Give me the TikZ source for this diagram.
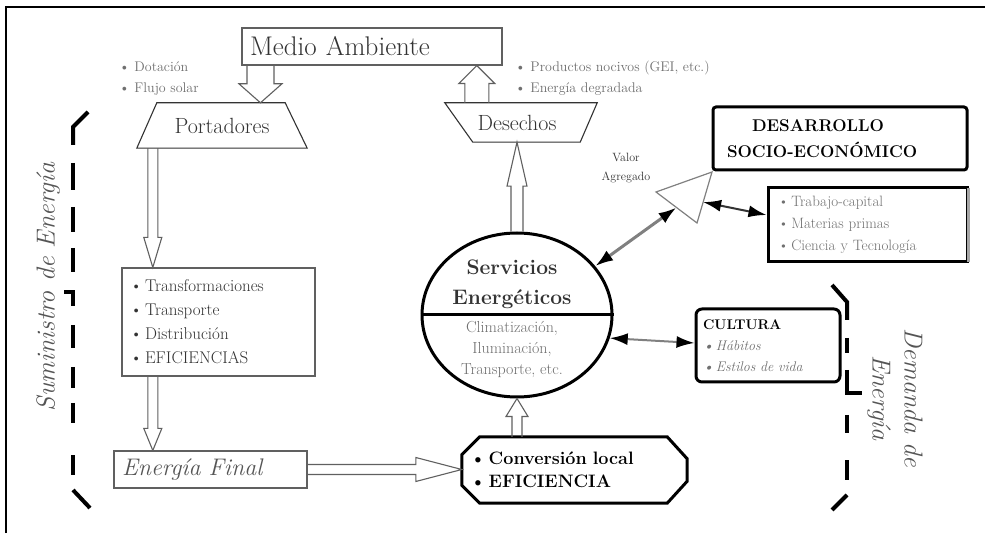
\documentclass[tikz,border=0pt]{standalone}
\usepackage{fontspec}
\usetikzlibrary{arrows.meta,calc,shapes.geometric}
\definecolor{txtdark}{HTML}{333333}
\definecolor{txtmid}{HTML}{555555}
\definecolor{txtlight}{HTML}{707070}
\definecolor{linegray}{HTML}{606060}
\newcommand\hollowarrow[5]{%
  \draw[harrow] let \p1=($(#2)-(#1)$), \n1={veclen(\x1,\y1)}, \n2={atan2(\y1,\x1)} in
   [shift={(#1)}, rotate=\n2] (0,-#3) -- (\n1-#5,-#3) -- (\n1-#5,-#4) -- (\n1,0) -- (\n1-#5,#4) -- (\n1-#5,#3) -- (0,#3);}
\tikzset{
  harrow/.style={draw=linegray, line width=1.1pt, line join=miter},
  graybox/.style={draw=linegray, line width=1.1pt},
  shapeline/.style={draw=txtdark, line width=1.1pt, line join=miter},
  thickline/.style={draw=black, line width=3pt},
  bracketline/.style={draw=black, line width=4pt, line cap=butt},
  dblarrow/.style={line width=2pt, {Latex[length=18pt,width=12pt,color=black]}-{Latex[length=18pt,width=12pt,color=black]}},
  smalltxt/.style={font=\fontsize{14}{21}\selectfont, text=txtlight, align=left, inner sep=0pt},
}
\begin{document}
\begin{tikzpicture}[x=1pt,y=1pt]
\useasboundingbox (0,0) rectangle (985,533);
\fill[white] (0,0) rectangle (985,533);
% frame
\draw[line width=1.5pt] (6,0) -- (6,526) -- (985,526);

% Medio Ambiente
\node[graybox, minimum width=260pt, minimum height=37pt, inner xsep=8pt, text width=244pt, align=left,
      font=\fontsize{27}{30}\selectfont, text=txtdark] (ma) at (372,486.5) {Medio Ambiente};
\node[smalltxt, anchor=west] (dot) at (119,454.5) {\textbullet\ Dotación\\\textbullet\ Flujo solar};
\node[smalltxt, anchor=west] (prod) at (515,454.5) {\textbullet\ Productos nocivos (GEI, etc.)\\\textbullet\ Energía degradada};

% Portadores
\node[minimum width=170pt, minimum height=45pt, font=\fontsize{22}{24}\selectfont, text=txtdark] (port) at (222,407.5) {Portadores};
\draw[shapeline] (port.south west) -- (port.south east) -- ([xshift=-22pt]port.north east) -- ([xshift=20pt]port.north west) -- cycle;

% Desechos
\node[minimum width=152pt, minimum height=39pt, font=\fontsize{22}{24}\selectfont, text=txtdark] (des) at (521,410.5) {\hspace*{-8pt}Desechos};
\draw[shapeline] (des.north west) -- (des.north east) -- ([xshift=-17pt]des.south east) -- ([xshift=28pt]des.south west) -- cycle;

% Transformaciones
\node[graybox, minimum width=193pt, minimum height=108pt, inner xsep=8pt, text width=177pt, align=left,
      font=\fontsize{17}{24}\selectfont, text=txtdark] (trans) at (218.5,211)
      {\textbullet\,Transformaciones\\\textbullet\,Transporte\\\textbullet\,Distribución\\\textbullet\,EFICIENCIAS};

% Energia Final
\node[graybox, minimum width=193pt, minimum height=37pt, inner xsep=8pt, text width=177pt, align=left,
      font=\itshape\fontsize{24}{26}\selectfont, text=txtmid] (ef) at (210.5,63.5) {Energía Final};

% Conversion local
\node[minimum width=225pt, minimum height=66pt, inner xsep=8pt, text width=209pt, align=left,
      font=\bfseries\fontsize{18}{23}\selectfont] (conv) at (574.5,63) {\textbullet\,Conversión local\\\textbullet\,EFICIENCIA};
\draw[thickline, line join=miter] ([yshift=-18pt]conv.north west) -- ([xshift=18pt]conv.north west) -- ([xshift=-20pt]conv.north east)
  -- ([yshift=-22pt]conv.north east) -- ([yshift=22pt]conv.south east) -- ([xshift=-20pt]conv.south east)
  -- ([xshift=18pt]conv.south west) -- ([yshift=18pt]conv.south west) -- cycle;

% Servicios energeticos
\node[ellipse, thickline, draw, minimum width=190pt, minimum height=164pt, inner sep=0pt] (serv) at (517,218) {};
\draw[thickline] (serv.west) -- (serv.east);
\node[font=\bfseries\fontsize{21}{30}\selectfont, text=txtdark, align=center] (servt) at (512,249) {Servicios\\Energéticos};
\node[font=\fontsize{16}{21}\selectfont, text=txtlight, align=center] (servs) at (512,184) {Climatización,\\Iluminación,\\Transporte, etc.};

% Desarrollo
\node[thickline, draw, rounded corners=3pt, minimum width=254pt, minimum height=63pt, inner xsep=14pt, text width=226pt, align=left,
      font=\bfseries\fontsize{17}{26}\selectfont] (dev) at (840,394.5) {\hspace*{25pt}DESARROLLO\\SOCIO-ECONÓMICO};

% Factores
\node[thickline, draw, minimum width=199pt, minimum height=74pt, inner xsep=10pt, text width=179pt, align=left,
      font=\fontsize{15}{22}\selectfont, text=txtlight] (fac) at (867.5,308)
      {\textbullet\,Trabajo-capital\\\textbullet\,Materias primas\\\textbullet\,Ciencia y Tecnología};
\draw[line width=3pt, draw=gray!70] ([yshift=-1.5pt]fac.north east) -- ([yshift=1.5pt]fac.south east);

% Valor agregado triangle
\coordinate (tl) at (656,341);
\coordinate (tr) at (712,361);
\coordinate (tb) at (697,310);
\draw[line width=1.2pt, draw=gray, line join=miter] (tl) -- (tr) -- (tb) -- cycle;
\node[font=\fontsize{12}{19}\selectfont, align=center, text=txtdark] (va) at (626,365) {Valor\\Agregado};

% Cultura
\node[thickline, draw, rounded corners=6pt, minimum width=144pt, minimum height=73pt, inner xsep=7pt, text width=130pt, align=left,
      font=\fontsize{14}{21}\selectfont] (cult) at (768,187.5)
      {\textbf{CULTURA}\\{\itshape\color{txtlight}\textbullet\,Hábitos}\\{\itshape\color{txtlight}\textbullet\,Estilos de vida}};

% side labels
\node[rotate=90, font=\itshape\fontsize{26}{28}\selectfont, text=txtmid] (sum) at (48,246) {Suministro de Energía};
\node[rotate=-90, align=center, font=\itshape\fontsize{26}{32}\selectfont, text=txtmid] (dem) at (895,135) {Demanda de\\Energía};

% hollow arrows
\coordinate (a1s) at ([xshift=19pt]ma.south west);
\coordinate (a1e) at (a1s |- port.north);
\hollowarrow{a1s}{a1e}{13.5}{21.5}{19}
\coordinate (a2s) at ([xshift=32pt]des.north west);
\coordinate (a2e) at (a2s |- ma.south);
\hollowarrow{a2s}{a2e}{12}{18}{18}
\coordinate (a3s) at ([xshift=16pt]port.south west);
\coordinate (a3e) at (a3s |- trans.north);
\hollowarrow{a3s}{a3e}{5}{9}{30}
\coordinate (a4s) at (a3s |- trans.south);
\coordinate (a4e) at (a3s |- ef.north);
\hollowarrow{a4s}{a4e}{5}{9}{22}
\coordinate (a5s) at (ef.east);
\coordinate (a5e) at (conv.west |- ef.east);
\hollowarrow{a5s}{a5e}{5}{12}{46}
\coordinate (a6s) at (serv.south |- conv.north);
\coordinate (a6e) at (serv.south);
\hollowarrow{a6s}{a6e}{5}{11}{18}
\coordinate (a7s) at (serv.north);
\coordinate (a7e) at (serv.north |- des.south);
\hollowarrow{a7s}{a7e}{6}{10}{44}

% double arrows
\draw[dblarrow, line width=3pt, draw=gray] (serv.32) -- ($(tl)!0.5!(tb)$);
\draw[dblarrow, draw=txtdark] ($(tb)!0.41!(tr)$) -- ([yshift=10pt]fac.west);
\draw[dblarrow, draw=gray] (serv.-14) -- ([yshift=2.5pt]cult.west);

% left bracket
\draw[bracketline] (88,421) -- (73,406) -- (73,388);
\foreach \a/\b in {370/343, 326/301, 285/261, 208/185, 166/145, 130/110, 78/58}
  \draw[bracketline] (73,\a) -- (73,\b);
\draw[bracketline] (64,241) -- (73,241) -- (73,227);
\draw[bracketline] (73,43) -- (90,25);
% right bracket
\draw[bracketline] (832,248) -- (847,231) -- (847,213);
\foreach \a/\b in {195/180, 118/100, 73/53}
  \draw[bracketline] (847,\a) -- (847,\b);
\draw[bracketline] (847,163) -- (847,140) -- (862,140);
\draw[bracketline] (847,38) -- (832,23);
\end{tikzpicture}
\end{document}
